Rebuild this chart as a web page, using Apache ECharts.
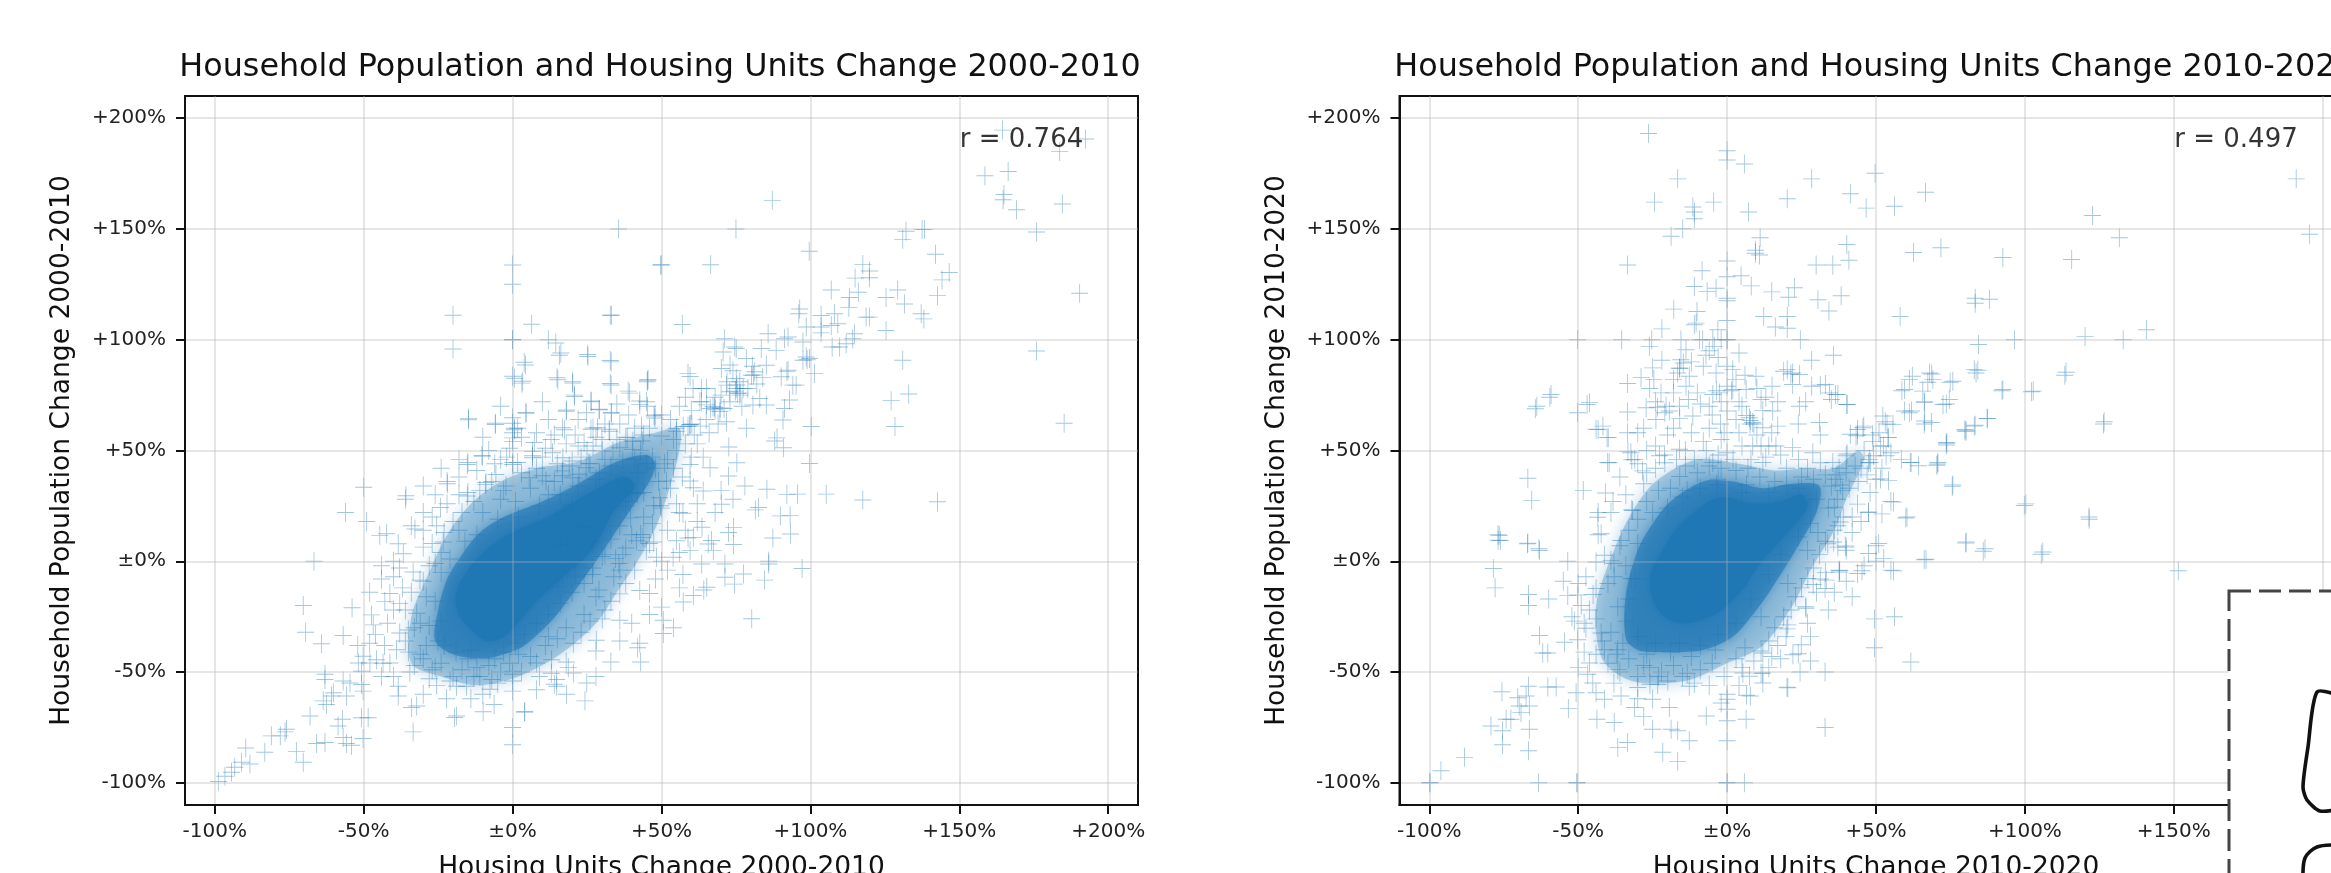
<!DOCTYPE html>
<html><head><meta charset="utf-8">
<style>html,body{margin:0;padding:0;background:#fff;overflow:hidden}#c{width:2331px;height:873px}</style>
<script src="https://cdn.jsdelivr.net/npm/echarts@6/dist/echarts.min.js"></script>
</head><body><div id="c"></div>
<script>
const tickValues=[-100,-50,0,50,100,150,200];
const tickLabels=['-100%','-50%','±0%','+50%','+100%','+150%','+200%'];
const titleA='Household Population and Housing Units Change 2000-2010';
const titleB='Household Population and Housing Units Change 2010-2020';
const xNameA='Housing Units Change 2000-2010', yNameA='Household Population Change 2000-2010';
const xNameB='Housing Units Change 2010-2020', yNameB='Household Population Change 2010-2020';
const rA='r = 0.764', rB='r = 0.497';
// saturated and mid-density outlines of the clouds
const coreA=[[-19,-15],[-15,-4],[-8,6],[0,13],[12,20],[25,30],[37,38],[41,34],[34,23],[27,6],[17,-7],[8,-18],[-2,-33],[-8,-36],[-13,-32],[-18,-24]];
const haloA=[[-26,-36],[-25,-22],[-22,-8],[-17,3],[-11,13],[-3,20],[10,27],[22,35],[35,45],[45,48],[48,44],[46,36],[40,24],[34,12],[28,0],[20,-15],[13,-27],[4,-38],[-3,-42],[-10,-44],[-20,-42]];
const outerA=[[-34,-46],[-34,-25],[-28,-5],[-22,12],[-14,26],[-4,36],[8,42],[22,45],[36,54],[48,58],[56,60],[56,50],[52,30],[48,15],[42,0],[36,-12],[28,-28],[16,-42],[2,-52],[-12,-56],[-24,-52]];
const coreB=[[-26,-11],[-25,-3],[-22,4],[-18,13],[-12,21],[-6,27],[-1,29],[8,26],[18,27],[25,30],[27,25],[21,14],[11,-1],[5,-13],[-3,-23],[-13,-28],[-20,-26],[-24,-20]];
const haloB=[[-34,-35],[-34,-15],[-30,5],[-25,17],[-19,27],[-8,36],[2,36],[12,33],[22,35],[31,34],[30,22],[23,5],[17,-8],[11,-20],[2,-34],[-8,-40],[-22,-41],[-30,-40]];
const outerB=[[-42,-44],[-44,-20],[-38,5],[-32,22],[-24,36],[-10,46],[4,44],[16,41],[26,42],[36,42],[44,50],[46,46],[40,28],[36,14],[28,-4],[22,-20],[12,-38],[0,-46],[-14,-54],[-32,-54]];
const pointsA=[[87.2,162.9],[75,150],[50,133.8],[66.5,133.8],[99.6,139.9],[158.6,174],[166.4,175.9],[165,165.5],[164.7,163.2],[169.2,158.7],[184.6,161.3],[175.9,148.6],[190.4,121],[175.9,94.9],[164.5,194.6],[192.4,190.6],[183.7,184.9],[132.1,149],[137.5,149.8],[138.3,149.8],[131,145.3],[142,138.6],[146.6,130.3],[144.2,127],[142.7,119.9],[117.6,134],[119.8,131],[119.8,128],[115,127.8],[107,122.4],[116.1,121.4],[113.1,119.1],[112.9,114.6],[125.4,119.1],[129.3,122.4],[131.6,116.1],[137.2,111.7],[138.1,109.4],[96.4,113.9],[96.1,111.7],[118.7,110.2],[119.8,110.2],[125.4,104.2],[114.8,102.7],[114.2,100.4],[112,98.2],[109.8,96.7],[107.3,96.7],[57,106.9],[103.6,110.9],[108.1,111.7],[103.6,105.7],[107,106.4],[109.2,107.2],[103.6,103.1],[98.6,105.7],[58.9,84.8],[45.5,82],[71.2,100.4],[74.6,96.7],[75.1,96],[70.7,94.5],[70.1,87],[75.1,82.5],[80.2,84],[81.3,85.5],[85.2,88.5],[83.5,96],[88.5,95.2],[85.8,102.7],[91.3,100.4],[92.5,101.2],[97.5,99],[98.6,92.2],[97.5,90.7],[99.7,91.5],[98.9,91],[101.4,84.8],[90.2,83.3],[92.5,86.2],[94.1,79.5],[95.2,79.5],[91.3,69],[90.8,63.8],[93,72.8],[100.3,60.8],[131,90.7],[127.1,72.5],[133,75.5],[128.4,60.8],[185.2,62.3],
[67.3,69.8],[67.8,69.5],[68,68.4],[69.6,67.6],[69.7,69.2],[65.1,70.6],[66.4,69],[59.5,61.6],[58.9,60.9],[60.2,62],[57.3,60.8],[55,60],[75.1,78],[74.8,76.8],[75.6,75.8],[72.9,76.5],[76.3,75],[71.8,79.5],[76.3,81],[63.4,78],[60.6,78],[65.1,78],[63.4,72],[78.5,91.5],[80.5,88],[83,73.5],[80.7,70.5],[85.2,70.5],[78.5,60],[71.8,63],[77.4,78],[45,72],[47.8,66],
[-14.8,63.9],[-5.8,61.7],[4.3,88.6],[0.6,82.6],[3.1,80.4],[15.2,81.9],[20.2,80.4],[15.7,93],[25.3,92.4],[33.1,90],[33.1,79.6],[45.2,81],[39.3,75.9],[59.6,83.4],[26.4,72],[20.8,74.4],[29.2,68.4],[33.1,66.9],[4.5,66.9],[18,67.7],[0.6,59.4],[0,55.7],[17.4,59.4],[27,60.2],[32.6,58.7],[42.7,70.7],[47.8,64.7],[6.7,49.7],[6.7,46.7],[-10.1,47.5],[-15.2,43.7],[-21.9,35],[-36,28],[-24.2,24.3],[-9,34.7],[-15.2,29.5],[-5.6,39.2],[0,43.7],[16.9,46.7],[24.7,42.2],[33.7,49.7],[11.2,36.2],[5.6,37.7],[29.2,40],[20.2,37.7],[40.4,54.2],[36,51.2],[55,58.7],[59.6,61.7],[62.9,72],[75.3,79.6],[76.4,75.9],[73,88.6],[80.9,84.1],[92.1,85.6],[88.8,55.7],[91,51.2],[85.4,32.5],[92.1,30.2],[82.6,24.3],[89.9,20.5],[93.3,12.3],[86,-1.2],[80.3,-25.9],[77.5,-5.7],[71.3,-1.2],[71.3,-7.2],[74.2,15.3],[72.5,13],[65.7,7.8],[67.4,4.8],[63.5,-1.2],[59.6,4.8],[65.2,-11.7],[60.7,-15.4],[57.3,-18.4],[50.6,-26.6],[50.6,-32.6],[42.7,-37],[50,-20.7],[42.7,-13.2],[36,-14.7],[36,-26.6],[28.1,-35.6],[60.7,33.2],[59.6,36.2],[64,31.7],[70.2,25.7],[75.3,44.5],[72.5,38.5],[66.3,42.2],[51.7,36.2],[49.4,28.7],[43.8,10.8],[41.6,9.3],[44.9,4.8],[48.3,1.8],[53.9,1.8],[55,9.3],[60.7,10.8],[59.6,43.7],
[72.6,51.6],[88,54.3],[99.7,44.1],[95.7,30.3],[105.3,30.3],[117.6,27.7],[142.7,26.9],[81.5,23.2],[93.2,20.6],[57.2,21.7],[63.6,15.4],[58.9,10.5],[66.8,9.4],[74.2,7.6],[87.4,10.5],[86,0],[97.2,-3.3],[84.6,-8.5],[74.5,-10.3],[64.2,-13],[57.2,-6],[46,-14.5],[30.1,-26],[50,0],[47.4,8.7],[43,12.1],[26.8,-6],[21,-6.7],[16.7,-6],[15.3,-11.5],[21.2,0.4],[30.1,2.2],[34.6,1.2],[35.7,-1],[26.8,8.7],[22.8,13.9],[24,15.4],[22.3,15.4],[23.5,13.9],[18.4,7.9],[16.4,7.2],[32,23.3],[39.6,19.6],[39,27],[41.9,30.6],[35.1,31.8],[47.4,25.1],[49.7,25.1],[24.5,23.3],[20,25.6],[17.3,21.4],[22.3,39.3],[16.7,40.8],[25.6,44.2],[20,45.3],[30.1,49.8],[38.5,55.8],[43.5,54.3],[40.2,50.5],[50,56.5],
[35.6,150],[49.7,133.7],[0,133.7],[0,125],[-20,111],[32.8,111],[33.2,111],[6.4,107],[0,100],[0,100],[12,100],[14.5,98.5],[16.2,94],[25.2,93.3],[32.8,90.6],[-20,95.8],[3.9,89.8],[0,83.5],[3.4,81.3],[14.9,82.8],[20.1,81],[32.8,80.2],[45.3,81.7],[38.8,76.8],[20.7,75],[42.7,72.3],[45.3,70],[26.3,72.3],[29,68.6],[33.2,67],[24.8,67],[18.1,68.3],[4.5,67],[-14.8,64.5],[-5.8,62.3],[0,64.8],[0,62.3],[0.6,60],[0,58],[1.7,60],[0,54],[16.8,60.3],[26.3,59.6],[28.5,60.3],[32.4,59.6],[43.3,61],[47.5,65.6],[12.9,55],[24,53.6],[6.7,47.6],[7.3,53.6],[13.4,49],[-10.3,47.6],[-15,44.6],[0,44.6],[1.7,44.6],[-22,36],[-50,33.4],[-35.8,29.6],[-15,31],[-9,35.6],[-2.2,34],[10,38.6],[16.8,38.6],
[-56.1,22],[-49,18],[-44.6,11.7],[-42.3,12.4],[-66.7,0],[-70.3,-20],[-53.9,-21],[-69.5,-32],[-64.2,-37.2],[-56.9,-33.5],[-47.4,-24.2],[-46.8,-28.7],[-38.4,7.9],[-32.8,14.6],[-36.7,3.4],[-30,6.4],[-25.5,16],[-23.3,8.7],[-33.4,-4.8],[-31.1,-8.5],[-41.2,-14.5],[-42.9,-18.2],[-37.9,-19],[-40,-22],[-32.2,-23.5],[-37.9,-32.4],[-39,-39.9],[-41.2,-45.9],[-45.7,-44.4],[-50.2,-42.9],[-51.8,-45.9],[-47.9,-45.9],[-50.7,-49.6],[-63,-51],[-63,-53.4],[-56.9,-54],[-54.6,-54.9],[-50.7,-55.6],[-50.2,-58.6],[-55.8,-60.8],[-60.8,-60.8],[-60.2,-59.3],[-63.6,-63],[-62.5,-64.6],[-68,-69.8],[-50.7,-70.6],[-48.5,-70.6],[-57.1,-71.3],[-58.6,-74.3],[-56.9,-79.5],[-55.8,-82.2],[-54.1,-83],[-50.2,-80],[-63,-81.8],[-65.8,-82.2],[-70.3,-90.7],[-72.6,-85.8],[-75.9,-75.8],[-76.4,-77],[-78,-78.8],[-81,-78.8],[-83.2,-86.2],[-89.6,-84.3],[-88.2,-91.5],[-91,-90.7],[-93.3,-93],[-94.4,-95.2],[-96.6,-97],[-98.8,-99.4],[-33.4,-77],[-18.8,-69.8],[-9.9,-67.9],[-6.2,-64.6],[4.1,-67.9],[0,-75],[0,-82.8],[0,-49.6],[0,-51],[0,-54],[0,-58.6],[-7.6,-57.8],[-7,-53.4],[-38.4,-60.8],[-38.4,-56.4],[-32.2,-65.3],[-33.9,-66],[-22.2,-62],[-25.5,-56],[-18.8,-56.4],[-15.5,-56.4],[-13,-52],[-28,-53],[-34.5,-50],[-43.5,-46],[14.8,-56.4],[18.1,-60],[24.3,-63],[14.8,-53.4],[20.4,-50.4],[13.1,-44.4],[8,-45.9],[20.4,-37],[24.9,-54.9],[18.7,-48],[42,-39],[43,-45.5],[14,-55.5],[4,-68],[-19.5,-70.5],[28,-40.5],[33,-45.5],[18,-45.5],[13,-50.5],[-26,-48],[-20,-52],[-12,-48],[-4,-50],[-30,-44],[-36,-36],[-33,-30],[-34,-14],[-28,-2],[-24,4],[-18,14],[-10,22],[-4,28],[6,33],[14,36],[26,44],[38,56],[44,57],[52,46],[54,42],[50,24],[44,20],[38,6],[36,-4],[28,-16],[24,-24],[12,-34]];
// second pass over the ridge and the edges of the left cloud
const pointsA2=[[-36,-22],[-35,-31],[-37,-12],[-31,-42],[-33,-47],[-29,-38],[-27,-49],[-24,-46],[-21,-54],[-17,-49],[-15,-44],[-11,-52],[-8,-47],[-5,-55],[-1,-46],[3,-50],[6,-43],[9,-52],[2,-42],[11,-38],[15,-35],[18,-30],[23,-32],[26,-27],[31,-22],[29,-13],[33,-18],[38,-10],[41,-4],[34,-7],[37,3],[40,12],[46,8],[47,17],[52,14],[44,31],[49,36],[53,33],[55,26],[57,38],[51,44],[47,47],[43,50],[41,46],[55,50],[58,53],[54,55],[61,57],[63,61],[65,64],[62,53],[66,58],[69,62],[71,69],[73,72],[70,75],[68,74],[72,81],[74,86],[77,70],[79,78],[82,80],[84,83],[64,47],[60,47],[56,22],[62,26],[-31,-28],[-29,-16],[-30,-9],[-26,-1],[-27,8],[-23,13],[-20,18],[-17,22],[-13,27],[-11,32],[-7,36],[-3,32],[1,27],[3,40],[8,42],[12,30],[15,44],[19,43],[23,47],[27,52],[31,46],[35,55],[30,55],[22,52],[10,47],[-2,47],[-6,44],[-18,38],[-26,30],[-30,22],[-34,16],[-38,-3],[-44,-8],[-46,-33],[-43,-38],[-48,-37],[-42,-28],[-40,-7],[-35,-41],[-25,-36],[-28,-29],[-24,-27],[-26,-18],[-23,-38],[-19,-41],[-14,-40],[-6,-44],[-3,-41],[1,-37],[4,-33],[8,-28],[12,-24],[16,-19],[20,-14],[24,-10],[27,-3],[31,3],[33,10],[36,16],[38,25],[40,31],[42,40],[45,44],[48,42],[-24,-5],[-21,1],[-16,9],[-12,12],[-5,19],[2,20],[9,25],[16,30],[22,34],[28,37],[33,43],[37,46]];
// third pass over the sparse belt above and below the ridge of the left cloud
const pointsA3=[[-12,41],[-8,50],[-4,46],[-1,51],[3,56],[8,58],[11,51],[14,57],[18,53],[21,57],[25,50],[28,56],[31,62],[36,62],[39,66],[41,60],[46,60],[50,66],[53,64],[56,70],[58,74],[60,68],[-18,30],[-22,26],[-27,20],[-30,14],[-18,46],[-24,42],[-30,34],[-4,70],[10,72],[12,64],[22,64],[-10,56],[35,71],[-40,0],[-44,-2],[-48,-14],[-52,-38],[-44,-52],[-40,-52],[-30,-60],[-14,-62],[-10,-60],[8,-58],[28,-52],[36,-36],[40,-28],[46,-24],[48,-8],[52,-4],[56,4],[58,14],[62,18],[68,22],[70,32],[74,28],[78,34],[56,-12],[54,-30]];
const pointsB=[[-26.4,193.1],[0,185.3],[0,181.1],[5.8,179.3],[-16.6,172.6],[28.4,172.6],[49.7,175.1],[41.4,165.9],[46.7,159.4],[56.2,160.2],[66.6,166.6],[20.2,163.6],[-4.5,162.1],[-24.4,162.1],[-11.5,159.9],[-11,157.6],[-11,154.6],[7.2,157.6],[-14.9,150.1],[-18.8,146.7],[11.1,146],[9.5,140.4],[10.9,138.2],[9.5,139],[-33.4,133.7],[40.2,143],[40.9,135.9],[29.9,133.7],[35.5,133.7],[62.6,139.4],[71.8,141.5],[0,135.5],[-8.4,131.1],[4.7,128.9],[0,128.4],[-11,124],[-6.7,121.7],[-3.7,123.2],[8.1,124.3],[15,121.6],[22.6,123.5],[20.7,119.2],[30.5,118],[38.3,119.8],[34.2,113],[0,118.7],[0,117.6],[58.1,110.5],[-17.9,113.8],[-10.1,112.7],[-10.4,107.5],[-11,106.8],[0,108.7],[12.3,110.5],[20.2,110.5],[16.2,105.7],[20.2,105.2],[-21.9,104.9],[-3.1,104.5],[-50.2,100],[-35.4,100],[-25.3,100],[-26.1,97],[-15.5,100],[-9.3,100],[-8.2,100],[-4.8,100],[0,100],[0,100],[-2,100],[-4.3,97],[24.6,100],[-13.8,95.5],[-7.1,93],[35.7,93],[28.4,90.7],[-21.9,90.7],[-15.5,91],[-16,87.3],[-25,87.3],[-16.6,85],[0,88],[1.9,86.5],[-28.9,83],[-33.4,80.2],[-12.7,83.5],[-13.8,79],[-3.7,85],[9.7,83.5],[20.2,86.5],[22,85],[24.3,84.3],[22,79.8],[15.1,79],[28.4,79],[33,79.8],[37.2,75.3],[34.4,76],[40.2,70.8],[-4.8,75.3],[-2.6,76],[0,79],[1.9,77.5],[6.4,77.5],[-59.1,75.3],[-63.9,70],[-46.2,71.6],[-50.2,67],[-33.4,67.4],[-27.2,69.3],[-22.2,76],[-20.5,70],[-19.4,67.8],[-23.9,64],[-11.5,65.6],[0,67.8],[7.5,64.8],[8.6,62.6],[7.8,63.5],[15.3,67.8],[24.3,70],[31,62.6],[17,61],[12,60.3],[-44,59.6],[-41.7,61],[-39.9,55.8],[-33.4,58],[52.3,65.6],[54,55.8],[45.6,60.3],[55.7,61.8],[43.3,56.6],[59.6,77.5],[62.2,83.5],[68,85],[69.1,82],[75.8,81.3],[65.7,76.8],[74.6,73],[72.5,70.8],[66.3,71.6],[59.6,67.8],[61.9,67.8],[66.3,63.3],[68.6,62.6],[80.3,58.8],[83,61],[73.6,53.6],[83,86.5],[83.3,118.7],[83.3,116.5],[84.4,97.8],[-32.3,49],[-31,46],[-40.1,44.6],[61.8,44.6],[70.8,44.6],[53.4,47.6],[47.8,46],[35.5,44.6],[22,51.3],[28.8,49],[40,47.6],[-16,50.6],[-22.7,47.6],[-4.8,44.6],[0,49],[8.6,52],[12,44.6],
[191.1,172.6],[195.6,147.6],[122.7,156.1],[131.7,146],[115.7,136.2],[92.6,137.1],[88.1,118.3],[140.8,104.5],[120.2,101.5],[133,100],[96.5,100],[84.2,86.2],[113.8,85.3],[92.6,77.5],[102.8,76.8],[126.6,63],[87.4,64.4],[83.3,61.4],[79.9,58.8],[73.8,53.3],[70.7,43.9],[75.8,34.4],[61.5,44.6],[64.3,43.1],[58.5,46],[100.3,25.9],[121.5,20],[60.4,20],[55.9,26.7],[52,21.4],[47.5,22.2],[54.2,36.4],[51.5,37.1],[80.3,8.7],[86.6,5.7],[106,4.2],[66.8,0.9],[50.9,8],[47.5,3.5],[52.6,1.2],[55.9,-4.3],[151.5,-4.3],[45.3,-4.3],[37.8,-4],[39.7,6.9],[35.8,8.7],[48.1,44.6],[49.2,47.6],[51.5,52],[54.2,55.8],[53.1,63],[45.9,61],[41.4,57.3],[40.3,48.4],[36.9,39],[38,34.4],[42,20],[38,17.7],[40.3,70.8],[36.4,75.3],
[-76.5,11.7],[-76.1,9.4],[-67,7.9],[-63,4.9],[-78.5,-3.3],[-77.9,-12],[-53.5,0],[-66.7,-15],[-66.7,-20],[-59.9,-17],[-53.5,-15.5],[-50.2,-15.2],[-52.1,-25],[-51.3,-27],[-63,-33.5],[-54.6,-36.5],[-61.9,-41.4],[-60.2,-41.4],[-44,-0.3],[-41.2,2.7],[-39,0.4],[-42.3,12.4],[-35.6,9.4],[-43.4,19.9],[-31.7,22.9],[-39,22],[-47.4,-7],[-44,-12.3],[-46.2,-22],[-47.4,-30.2],[-50.2,-35.4],[-37.9,-7],[-32.2,-7.8],[-36.7,-20.5],[-42.3,-32.4],[-41.2,-39.9],[-36.7,-39.9],[-46.2,-45.9],[-46.8,-51],[-45.1,-54.9],[-44,-59.3],[-41.2,-62.3],[-35.6,-60.8],[-36.7,-48.9],[-30,-57],[-31.1,-66],[-25,-62.3],[-23.3,-55.6],[-19.9,-54],[-12.7,-56.4],[-19.4,-66],[-25,-75.8],[-18.8,-75.8],[-16.6,-76.5],[-12.7,-81],[-21.6,-86.2],[-16.6,-90.3],[-33.4,-81.8],[-36.7,-84],[-37.9,-72.8],[-43.7,-71.3],[-7,-69.8],[6.4,-71.3],[0,-81],[0,-72],[0,-66.8],[0,-62.3],[0,-60],[7.8,-60.8],[20.4,-57.1],[32.9,-75],[32.9,-50],[24.5,-50],[12,-54.9],[12,-50.4],[7.5,-51.9],[5.3,-50.4],[12,-41.4],[22.1,-42.2],[24.9,-37.7],[19.8,-33.9],[20.4,-28.7],[11.4,-25],[21.5,-22],[26.5,-21.2],[20.4,-10],[27.1,-7.8],[32.9,-12.3],[37.7,-4.8],[33.3,-8.5],[30.5,13],[37.2,6.4],[33.8,7.9],[40,6.4],[36,24.4],[37.2,16],[-53.3,-66.4],[-50.7,-59.3],[-60.2,-56.7],[-57.4,-56.7],[-66.7,-56.4],[-75.6,-58.9],[-70.3,-61.6],[-67.5,-60.8],[-66.4,-65.3],[-69.8,-65.3],[-69.2,-68.3],[-72.6,-71.3],[-74.2,-71.3],[-79.3,-74.3],[-75.4,-76.5],[-66.4,-75.8],[-75.4,-82.8],[-66.7,-85.5],[-88.2,-88.5],[-96.1,-94.5],[-99.8,-100],[-99.8,-100],[-63.3,-100],[-50.4,-100],[-50.4,-100],[0,-100],[0,-100],[5.8,-100],
[61.7,-45.5],[49.5,-39],[49.5,-26],[56.2,-25],[20.1,-56.8],[55,-4],[66.2,0.7],[80.1,8.2],[86,4.5],[105.5,3.2],[121.6,19],[99.8,25.2],[126.4,62],[113.4,84],[102.2,76.5],[92.3,77],[87.3,64.5],[83.6,85],[79.9,59.5],[75.6,33.8],[70.4,43.3],[73.6,52.5],[61.2,67],[66.2,62],[67.4,80.8],[74.9,80.8],[61.2,82],[73.6,71],[66.2,72],[58.7,77],[68.7,84.5],[48.8,57],[53.7,62],[43.8,57],[47.5,44.5],[52.5,52],[37.6,42],[36.3,37],[38.8,32],[47.5,22],[55,27],[60,19.5],[43.8,25.8],[50,7],[43.8,-5.5],[37.6,-4.2],[31.3,-8],[28.9,-10.5],[26.4,-20.5],[20.1,-30.5],[23.9,-41.7],[11.4,-40.5],[11.4,-50.5],[6.5,-60.5],[-13.4,-50.5],[-25.9,-55.5],
[-64.4,68.8],[-59.5,74],[-47,70.8],[-43.3,59.5],[-40.3,55.8],[-33.3,49.5],[-32,45.8],[-39.6,44.5],[-66.9,37.5],[-65.6,27.5],[-48.3,32],[-40.8,30.8],[-38.3,27],[-43.3,22],[-32,23.3],[-43.3,12],[-76.9,12],[-76.9,9.5],[-66.9,8.2],[-63.2,5.7],[-28.4,40.8],[-20.9,44.5],[-15.9,38.3],[-13.4,32],[-3.5,34.5],[6.5,34.5],[11.4,52],[7.7,62],[6.5,65.8],[9,62],[21.4,84.5],[19,85.8],[-24.6,82],[-15.9,87],[-14.7,89.5],[-3.5,77],[1.5,77],[-15.9,64.5],[-23.4,69.5],[-20.9,67],[-2.2,62],[11.4,73],[31.3,79.5],[35,73],[26.4,72],[23.9,62],[31.3,57],[16.4,52],[31.3,44.5],[43.8,59.5]];
// second pass over the edges of the right cloud
const pointsB2=[[-44,-26],[-42,-36],[-45,-15],[-40,-46],[-36,-50],[-33,-44],[-30,-52],[-26,-48],[-22,-50],[-18,-47],[-15,-52],[-9,-49],[-5,-46],[-1,-52],[3,-44],[6,-39],[9,-45],[14,-36],[16,-30],[19,-25],[23,-16],[25,-12],[29,-3],[31,3],[33,9],[27,5],[36,14],[39,20],[34,24],[37,28],[41,33],[35,34],[44,36],[43,43],[46,50],[49,54],[51,58],[47,39],[40,40],[33,39],[29,37],[25,38],[20,34],[16,36],[11,38],[7,42],[3,41],[-2,42],[-6,43],[-10,40],[-14,43],[-19,33],[-23,32],[-27,27],[-30,19],[-33,14],[-36,7],[-38,-1],[-40,-10],[-34,-2],[-30,8],[-25,22],[-20,24],[-15,29],[-9,33],[-3,37],[5,31],[14,31],[24,33],[30,28],[28,17],[24,11],[18,3],[14,-6],[8,-17],[3,-28],[-3,-33],[-9,-38],[-16,-37],[-24,-37],[-30,-34],[-34,-27],[-33,-17],[-31,-8],[-35,-37],[-27,-42],[-19,-41],[-12,-43],[-4,-40],[-39,-32],[-37,-42],[-28,-47],[-11,-55],[-23,-52],[5,-48],[15,-43],[17,-38],[27,-28],[30,-14],[33,-5],[40,5],[42,13],[45,18],[48,31],[50,37],[52,42],[55,49],[45,42],[-50,-10],[-49,-20],[-55,-9],[-48,-41],[-28,35],[-24,42],[-17,46],[-7,50],[-2,55],[4,58],[13,47],[-27,50],[-20,57],[-12,58],[-9,71],[-5,66],[4,72],[12,68],[17,72],[6,84],[-3,92],[-8,88],[-18,76],[-30,58]];
// third pass over the sparse belt above the right cloud
const pointsB3=[[-36,38],[-34,30],[-30,44],[-27,40],[-24,52],[-21,48],[-18,60],[-14,50],[-11,46],[-8,54],[-6,60],[-3,48],[-1,58],[2,46],[3,64],[5,52],[8,46],[10,57],[14,52],[15,58],[18,48],[20,42],[24,46],[27,42],[-16,70],[-13,73],[-10,76],[-6,70],[-2,72],[3,82],[5,70],[10,78],[13,74],[-28,60],[-24,72],[-26,78],[-18,82],[-12,90],[-6,95],[4,94],[-48,-28],[-44,-42],[-50,-48],[-38,-55],[-30,-62],[-28,-70],[-6,-56],[4,-56],[-2,-64],[14,-48],[18,-44],[28,-34],[28,-45],[34,-22],[36,-14],[40,-9],[42,-16],[46,-2],[50,0]];

const chart=echarts.init(document.getElementById('c'),null,{renderer:'canvas'});
const FONT='DejaVu Sans', BLUE='#1f77b4';
const CROSS='path://M0,9.5H20V10.5H0Z M9.5,0H10.5V20H9.5Z';
const fmt=v=>tickLabels[tickValues.indexOf(v)];
function axis(gridIndex,name,isY){
  return {type:'value',gridIndex,min:-110,max:210,name,nameLocation:'middle',nameGap:isY?109:50,z:5,
    nameTextStyle:{fontFamily:FONT,fontSize:26.5,color:'#111'},
    axisLine:{show:true,onZero:false,lineStyle:{color:'#111',width:2}},
    axisTick:{show:true,length:9,customValues:tickValues,lineStyle:{color:'#111',width:2}},
    axisLabel:{show:true,customValues:tickValues,formatter:fmt,margin:isY?19:17,hideOverlap:false,fontFamily:FONT,fontSize:20,color:'#222'},
    splitLine:{show:true,lineStyle:{color:'rgba(176,176,176,0.32)',width:2}}};
}
function poly(i,pts,opacity,z,blur){
  return {type:'custom',xAxisIndex:i,yAxisIndex:i,silent:true,z,data:[pts[0]],clip:true,encode:{x:0,y:1},
    renderItem:(p,api)=>({type:'polygon',shape:{points:pts.map(q=>api.coord(q)),smooth:0.3},
      style:{fill:BLUE,opacity,shadowBlur:blur,shadowColor:BLUE}})};
}
function cloud(i,pts){
  return {type:'scatter',xAxisIndex:i,yAxisIndex:i,silent:true,z:3,data:pts,symbol:CROSS,symbolSize:[17,19],
    itemStyle:{color:BLUE,opacity:0.42},animation:false,progressive:0};
}
function note(i,txt){
  return {type:'scatter',xAxisIndex:i,yAxisIndex:i,silent:true,z:6,data:[[150,190]],symbolSize:1,itemStyle:{color:'rgba(0,0,0,0)'},
    label:{show:true,position:'right',distance:0,formatter:txt,fontFamily:FONT,fontSize:26,color:'#000'}};
}
chart.setOption({
  animation:false,backgroundColor:'#fff',
  title:[
    {text:titleA,left:655,top:47,textAlign:'center',textStyle:{fontFamily:FONT,fontSize:31.8,fontWeight:'normal',color:'#111'}},
    {text:titleB,left:1870,top:47,textAlign:'center',textStyle:{fontFamily:FONT,fontSize:31.8,fontWeight:'normal',color:'#111'}}
  ],
  grid:[
    {left:185,top:96,width:953,height:709,outerBoundsMode:'none',show:true,borderColor:'#111',borderWidth:2,backgroundColor:'#fff'},
    {left:1399.5,top:96,width:953,height:709,outerBoundsMode:'none',show:true,borderColor:'#111',borderWidth:2,backgroundColor:'#fff'}
  ],
  xAxis:[axis(0,xNameA,false),axis(1,xNameB,false)],
  yAxis:[axis(0,yNameA,true),axis(1,yNameB,true)],
  series:[poly(0,outerA,0.3,1,16),poly(0,haloA,0.6,1,12),poly(0,coreA,1,2,10),cloud(0,pointsA),cloud(0,pointsA2),cloud(0,pointsA3),note(0,rA),
          poly(1,outerB,0.3,1,16),poly(1,haloB,0.6,1,12),poly(1,coreB,1,2,10),cloud(1,pointsB),cloud(1,pointsB2),cloud(1,pointsB3),note(1,rB)],
  graphic:[
    {type:'rect',z:100,shape:{x:2229,y:591,width:300,height:400},style:{fill:'#fff',stroke:'#444',lineWidth:3,lineDash:[22,8]}},
    {type:'polyline',z:101,shape:{smooth:0.25,points:[[2340,696],[2317,692],[2308,747],[2303,787],[2307,800],[2320,811],[2340,809]]},style:{fill:'none',stroke:'#111',lineWidth:3.6}},
    {type:'polyline',z:101,shape:{smooth:0.3,points:[[2303,880],[2305,858],[2317,847],[2340,845]]},style:{fill:'none',stroke:'#111',lineWidth:3.6}}
  ]
});
</script></body></html>
